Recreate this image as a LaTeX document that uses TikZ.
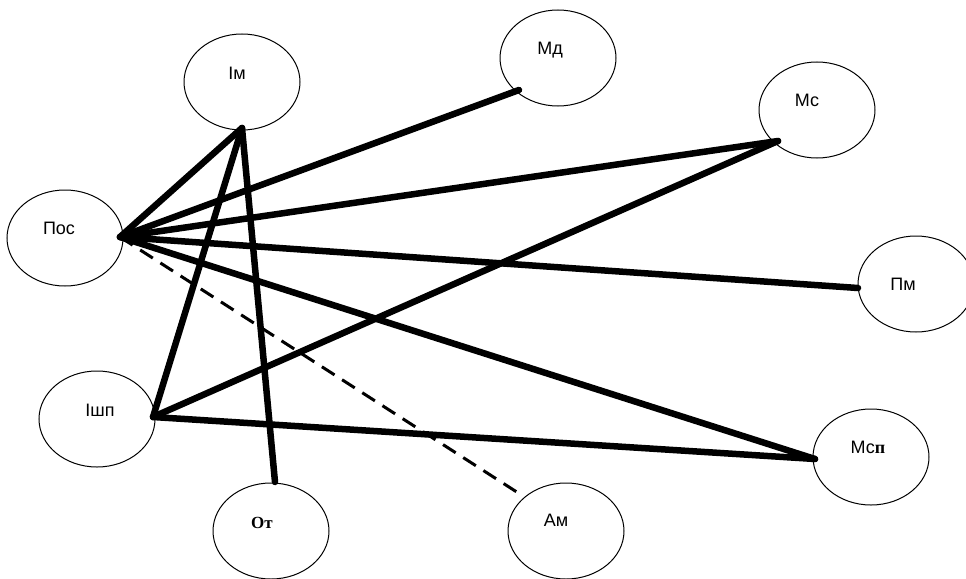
\documentclass[tikz,border=0pt]{standalone}
\usepackage{fontspec}
\setmainfont{Liberation Sans}
\newfontfamily\serifb{Liberation Serif}
\usetikzlibrary{shapes.geometric}
\begin{document}
\begin{tikzpicture}[x=1pt,y=-1pt,
  oval/.style={draw=black,line width=1pt,ellipse,minimum width=116pt,minimum height=96pt,inner sep=0pt},
  lbl/.style={inner sep=0pt,font=\fontsize{18}{20}\selectfont},
  link/.style={line width=6.5pt,line cap=round},
  dlink/.style={line width=3pt,dash pattern=on 15pt off 9pt}]
\useasboundingbox (0,0) rectangle (966,578);
\fill[white] (0,0) rectangle (966,578);
% ovals
\node[oval] (Im) at (242,82) {};
\node[oval] (Pos) at (65,238) {};
\node[oval] (Md) at (558,58) {};
\node[oval] (Mc) at (817,110) {};
\node[oval] (Pm) at (916,284) {};
\node[oval] (Ishp) at (97,419) {};
\node[oval] (Ot) at (271,531) {};
\node[oval] (Am) at (566,531) {};
\node[oval] (Msp) at (871,457) {};
% texts
\node[lbl] (tIm) at (237,73) {Ім};
\node[lbl] (tPos) at (59,228) {Пос};
\node[lbl] (tMd) at (550,50) {Мд};
\node[lbl] (tMc) at (807,100) {Мс};
\node[lbl] (tPm) at (903,284) {Пм};
\node[lbl] (tIshp) at (100,410) {Ішп};
\node[lbl,font=\serifb\bfseries\fontsize{17}{20}\selectfont] (tOt) at (262,523) {От};
\node[lbl] (tAm) at (556,520) {Ам};
\node[lbl] (tMsp) at (868,447) {Мс{\serifb\bfseries п}};
% connection points
\coordinate (pIm) at (242,128);
\coordinate (pPos) at (120,237);
\coordinate (pMd) at (519,90);
\coordinate (pMc) at (778,141);
\coordinate (pPm) at (858,288);
\coordinate (pIshp) at (153,417);
\coordinate (pOt) at (275,482);
\coordinate (pAm) at (523,496);
\coordinate (pMsp) at (815,459);
% connectors
\draw[link] (pPos) -- (pIm);
\draw[link] (pPos) -- (pMd);
\draw[link] (pPos) -- (pMc);
\draw[link] (pPos) -- (pPm);
\draw[link] (pPos) -- (pMsp);
\draw[dlink] (pPos) -- (pAm);
\draw[link] (pIm) -- (pIshp);
\draw[link] (pIm) -- (pOt);
\draw[link] (pIshp) -- (pMc);
\draw[link] (pIshp) -- (pMsp);
\end{tikzpicture}
\end{document}
